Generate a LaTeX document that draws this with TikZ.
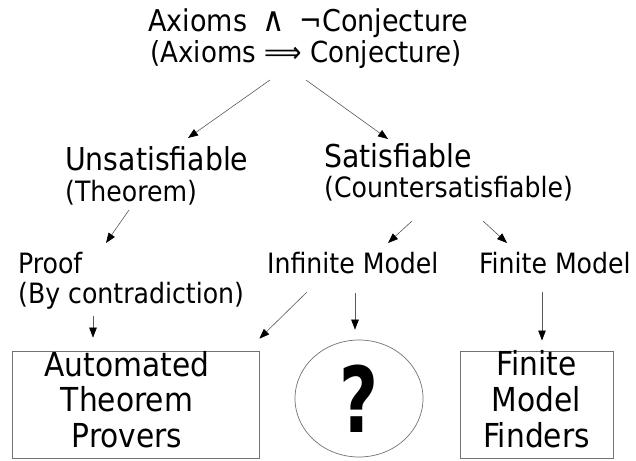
\documentclass[tikz,border=0pt]{standalone}
\usepackage{fontspec}
\setmainfont{DejaVu Sans Condensed}
\usepackage{graphicx}
\usetikzlibrary{arrows.meta,shapes.geometric,calc}
\begin{document}
\begin{tikzpicture}[x=1pt,y=1pt,
  lbl/.style={inner sep=0pt, anchor=base west, text=black},
  ttl/.style={lbl, anchor=base, font=\fontsize{29}{34}\selectfont},
  big/.style={lbl, font=\fontsize{31.5}{36}\selectfont},
  sub/.style={lbl, font=\fontsize{28}{32}\selectfont},
  mid/.style={lbl, font=\fontsize{28}{32}\selectfont},
  arr/.style={draw=black!65, line width=0.6pt, -{Triangle[length=10pt,width=7.5pt,black]}},
  box/.style={draw=black!55, line width=0.8pt, rectangle, inner sep=0pt,
    minimum height=105pt, font=\fontsize{33}{35.5}\selectfont},
]
\useasboundingbox (0,0) rectangle (636,-460);
\fill[white] (0,0) rectangle (636,-460);

% title
\node[ttl, font=\fontsize{30}{34}\selectfont] (t1) at (308.5,-31)
  {Axioms\hspace{15pt}{\fontsize{34}{34}\selectfont ∧}\hspace{15pt}¬Conjecture};
\node[ttl] (t2) at (306,-62) {(Axioms ⟹ Conjecture)};

% second level
\node[big] (unsat) at (65,-170) {Unsatisfiable};
\node[sub] (thm) at (65,-201) {(Theorem)};
\node[big] (sat) at (324,-167) {Satisfiable};
\node[sub] (csat) at (324,-197) {(Countersatisfiable)};

% third level
\node[mid] (proof) at (18,-273) {Proof};
\node[mid] (bycon) at (18,-303) {(By contradiction)};
\node[mid] (inf) at (267,-273) {Infinite Model};
\node[mid] (fin) at (479,-273) {Finite Model};

% bottom
\node[box, minimum width=247pt] (atp) at (135.5,-404.5)
  {\begin{tabular}{@{}c@{}}Automated\\Theorem\\Provers\end{tabular}\hspace*{17pt}};
\node[draw=black!55, line width=0.7pt, ellipse, inner sep=0pt,
  minimum width=128pt, minimum height=117pt,
  font=\fontsize{91}{91}\bfseries\selectfont] (q) at (359,-398.5)
  {\scalebox{0.82}[1]{?}};
\node[box, minimum width=153pt] (fmf) at (536.5,-404.5)
  {\begin{tabular}{@{}c@{}}Finite\\Model\\Finders\end{tabular}};

% connectors
\draw[arr] ($(t2.base)+(-36,-18)$) -- ($(unsat.base west)+(123,32)$);
\draw[arr] ($(t2.base)+(0,-18)$) -- ($(sat.base west)+(64,28)$);
\draw[arr] ($(thm.base west)+(64,-9)$) -- ($(proof.base west)+(88,30)$);
\draw[arr] ($(csat.base west)+(88,-24)$) -- ($(inf.base west)+(121,30)$);
\draw[arr] ($(csat.base west)+(159,-24)$) -- ($(fin.base west)+(28,30)$);
\draw[arr] ($(bycon.base west)+(75,-13)$) -- ($(atp.north)+(-42.5,13)$);
\draw[arr] ($(inf.base west)+(40,-19)$) -- ($(atp.north east)+(0,12)$);
\draw[arr] ($(inf.base west)+(88,-20)$) -- ($(q.north)+(-4,10)$);
\draw[arr] ($(fin.base west)+(63,-19)$) -- ($(fmf.north)+(5.5,10)$);
\end{tikzpicture}
\end{document}
